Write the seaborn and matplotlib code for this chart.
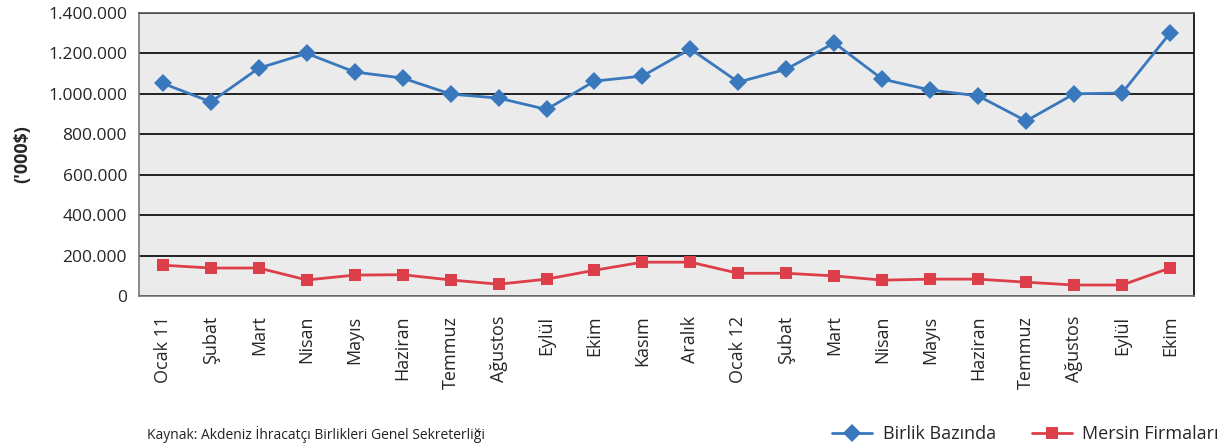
import pandas as pd
import matplotlib.pyplot as plt
import matplotlib.ticker as mticker
import seaborn as sns

# data
months = ['Ocak 11', 'Şubat', 'Mart', 'Nisan', 'Mayıs', 'Haziran', 'Temmuz', 'Ağustos',
          'Eylül', 'Ekim', 'Kasım', 'Aralık', 'Ocak 12', 'Şubat', 'Mart', 'Nisan',
          'Mayıs', 'Haziran', 'Temmuz', 'Ağustos', 'Eylül', 'Ekim']
birlik = [1052000, 960000, 1127000, 1200000, 1108000, 1078000, 999000, 979000,
          923000, 1063000, 1088000, 1222000, 1058000, 1122000, 1252000, 1073000,
          1019000, 990000, 866000, 1000000, 1004000, 1300000]
mersin = [153000, 139000, 139000, 80000, 104000, 106000, 80000, 59000,
          84000, 128000, 168000, 168000, 113000, 113000, 100000, 79000,
          84000, 84000, 69000, 55000, 55000, 139000]

df = pd.DataFrame({'idx': range(len(months)), 'Birlik Bazında': birlik, 'Mersin Firmaları': mersin})
long = df.melt(id_vars='idx', var_name='seri', value_name='deger')

sns.set_style('white')
plt.rcParams['font.family'] = ['Open Sans', 'DejaVu Sans']

fig = plt.figure(figsize=(12.29, 4.46), dpi=100)
ax = fig.add_axes([0.113, 0.336, 0.8585, 0.635])
ax.set_facecolor('#EBEBEB')

colors = {'Birlik Bazında': '#3A78BE', 'Mersin Firmaları': '#DD3F4A'}
markers = {'Birlik Bazında': 'D', 'Mersin Firmaları': 's'}
sns.lineplot(data=long, x='idx', y='deger', hue='seri', style='seri',
             palette=colors, markers=markers, dashes=False, markersize=9,
             markeredgewidth=0, linewidth=2, ax=ax, legend=False)

ax.set_xlim(-0.5, len(months) - 0.5)
ax.set_ylim(0, 1400000)
ax.yaxis.set_major_locator(mticker.MultipleLocator(200000))
ax.yaxis.set_major_formatter(mticker.FuncFormatter(lambda v, p: f'{int(v):,}'.replace(',', '.')))
ax.grid(axis='y', color='black', linewidth=1.2)
ax.set_axisbelow(True)

ax.set_xticks(range(len(months)))
ax.set_xticklabels(months, rotation=90, fontsize=13)
ax.set_xticks([i - 0.5 for i in range(len(months) + 1)], minor=True)
ax.tick_params(axis='x', which='major', length=0, pad=14)
ax.tick_params(axis='x', which='minor', length=6, width=1.2, color='#555555')
ax.tick_params(axis='y', length=5, width=1, color='#555555', labelsize=12.5)
ax.set_xlabel('')
ax.set_ylabel("('000$)", fontsize=13, fontweight='bold', labelpad=12)

for s in ['left', 'bottom']:
    ax.spines[s].set_color('#777777')
ax.spines['top'].set_color('#555555')
ax.spines['right'].set_color('black')
for s in ax.spines.values():
    s.set_linewidth(1.2)

fig.text(0.12, 0.015, 'Kaynak: Akdeniz İhracatçı Birlikleri Genel Sekreterliği', fontsize=10, color='#222222')

handles = [plt.Line2D([], [], color=colors[k], marker=markers[k], markersize=9,
                      markeredgewidth=0, linewidth=2) for k in colors]
fig.legend(handles, list(colors), loc='lower right', bbox_to_anchor=(1.005, -0.03),
           ncol=2, frameon=False, fontsize=13, handlelength=2.2, columnspacing=2.0,
           handletextpad=0.6)

fig.savefig('out.png', dpi=100)
